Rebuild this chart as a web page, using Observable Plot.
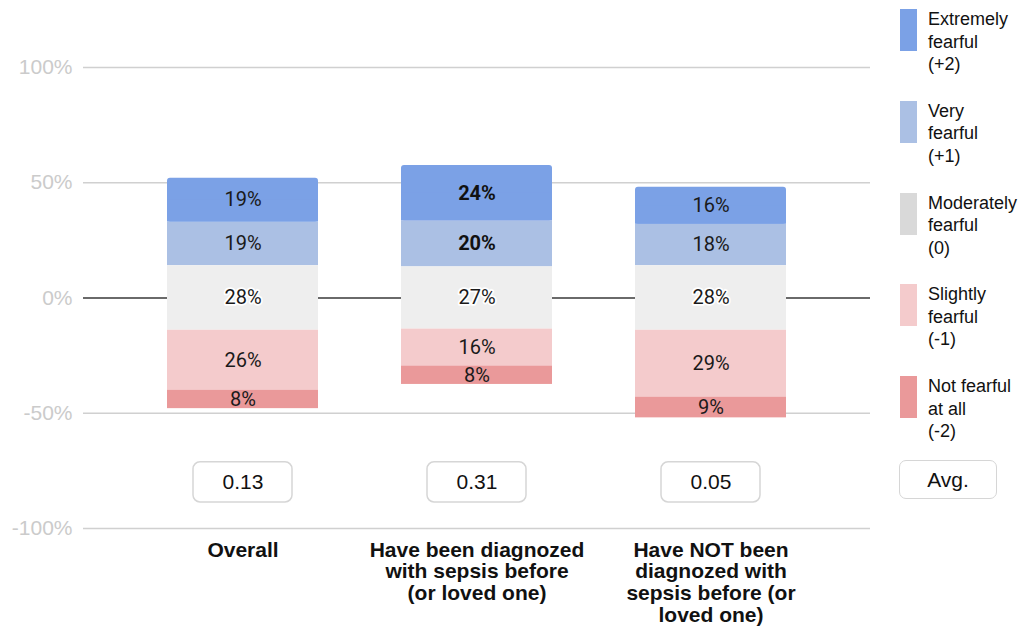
<!DOCTYPE html>
<html>
<head>
<meta charset="utf-8">
<script src="https://cdn.jsdelivr.net/npm/d3@7"></script>
<script src="https://cdn.jsdelivr.net/npm/@observablehq/plot@0.6"></script>
<style>
  html, body { margin: 0; padding: 0; background: #ffffff; }
  #chart { position: relative; width: 1021px; height: 626px; overflow: hidden; }
  #chart svg { display: block; }
  .legend { position: absolute; left: 900px; top: 9px; font-family: Arial, "Liberation Sans", sans-serif; font-size: 18px; color: #111; }
  .legend .item { position: relative; height: 91.75px; }
  .legend .swatch { position: absolute; left: 0; top: 0; width: 17px; height: 42px; }
  .legend .name { position: absolute; left: 28px; top: -1px; line-height: 22.5px; white-space: pre; }
  .avg-tag { position: absolute; left: 899px; top: 460px; width: 96px; height: 37px; border: 1.5px solid #d6d6d6; border-radius: 7px; font-family: Arial, "Liberation Sans", sans-serif; font-size: 21px; color: #111; display: flex; align-items: center; justify-content: center; background: #fff; }
</style>
</head>
<body>
<div id="chart"></div>
<script>
// Survey groups (keys) and their wrapped axis labels
const groups = [
  "Overall",
  "Have been diagnozed with sepsis before (or loved one)",
  "Have NOT been diagnozed with sepsis before (or loved one)"
];
const groupLabels = [
  "Overall",
  "Have been diagnozed\nwith sepsis before\n(or loved one)",
  "Have NOT been\ndiagnozed with\nsepsis before (or\nloved one)"
];

// Response levels, from most to least fearful
const levels = ["Extremely fearful", "Very fearful", "Moderately fearful", "Slightly fearful", "Not fearful at all"];
const legendLabels = ["Extremely\nfearful\n(+2)", "Very\nfearful\n(+1)", "Moderately\nfearful\n(0)", "Slightly\nfearful\n(-1)", "Not fearful\nat all\n(-2)"];
const barColors = ["#7ba1e6", "#abc0e4", "#eeeeee", "#f4cbcc", "#ea999a"];
const swatchColors = ["#7ba1e6", "#abc0e4", "#d9d9d9", "#f4cbcc", "#ea999a"];

// Share of respondents per level (%), one value per group
const extremelyFearful = [19, 24, 16];
const veryFearful = [19, 20, 18];
const moderatelyFearful = [28, 27, 28];
const slightlyFearful = [26, 16, 29];
const notFearful = [8, 8, 9];

// Weighted average score per group
const averages = [0.13, 0.31, 0.05];

// Segments printed in bold
const boldCells = ["1|Extremely fearful", "1|Very fearful"];

// Y axis ticks
const yTicks = [-1, -0.5, 0, 0.5, 1];

// Diverging stack: the neutral share is centred on zero
const segments = [];
groups.forEach((g, i) => {
  const m = moderatelyFearful[i] / 100;
  const v = veryFearful[i] / 100;
  const e = extremelyFearful[i] / 100;
  const s = slightlyFearful[i] / 100;
  const n = notFearful[i] / 100;
  const rows = [
    [levels[0], m / 2 + v, m / 2 + v + e, extremelyFearful[i]],
    [levels[1], m / 2, m / 2 + v, veryFearful[i]],
    [levels[2], -m / 2, m / 2, moderatelyFearful[i]],
    [levels[3], -m / 2 - s, -m / 2, slightlyFearful[i]],
    [levels[4], -m / 2 - s - n, -m / 2 - s, notFearful[i]]
  ];
  rows.forEach(([level, y1, y2, pct]) => {
    segments.push({group: g, index: i, level, y1, y2, pct, bold: boldCells.includes(`${i}|${level}`)});
  });
});

const color = d => barColors[levels.indexOf(d.level)];
const topSegments = segments.filter(d => d.level === levels[0]);
const otherSegments = segments.filter(d => d.level !== levels[0]);
const avgRows = groups.map((g, i) => ({group: g, avg: averages[i]}));

// Row of average tags sits below the bars, inside the frame
const avgRow = -0.8;
const avgHalf = 0.087;

const chart = Plot.plot({
  width: 1021,
  height: 626,
  marginTop: 67,
  marginBottom: 98,
  marginLeft: 83,
  marginRight: 151,
  style: {fontFamily: "Arial, 'Liberation Sans', sans-serif", background: "#ffffff"},
  x: {domain: groups, padding: 0.356, axis: null},
  y: {domain: [-1, 1], axis: null},
  marks: [
    Plot.gridY(yTicks, {stroke: "#d0d0d0", strokeOpacity: 1, strokeWidth: 1.5}),
    Plot.ruleY([0], {stroke: "#444444", strokeWidth: 1.5}),
    Plot.text(yTicks, {
      y: d => d, text: d => `${Math.round(d * 100)}%`,
      frameAnchor: "left", textAnchor: "end", dx: -11,
      fill: "#cbcbcb", fontSize: 21
    }),
    // Stacked segments
    Plot.barY(otherSegments, {x: "group", y1: "y1", y2: "y2", fill: color}),
    Plot.barY(topSegments, {x: "group", y1: "y1", y2: "y2", fill: color, rx: 3}),
    Plot.barY(topSegments, {x: "group", y1: "y1", y2: d => (d.y1 + d.y2) / 2, fill: color}),
    // Segment values
    Plot.text(segments.filter(d => !d.bold), {
      x: "group", y: d => (d.y1 + d.y2) / 2, text: d => `${d.pct}%`,
      fontFamily: "Roboto, sans-serif", fontSize: 20, fill: "#1a1a1a",
      stroke: d => d.level === levels[2] ? "#ffffff" : "none", strokeWidth: 3.5
    }),
    Plot.text(segments.filter(d => d.bold), {
      x: "group", y: d => (d.y1 + d.y2) / 2, text: d => `${d.pct}%`,
      fontFamily: "Roboto, sans-serif", fontSize: 20, fontWeight: "bold", fill: "#111111"
    }),
    // Average tags
    Plot.barY(avgRows, {
      x: "group", y1: avgRow - avgHalf, y2: avgRow + avgHalf,
      insetLeft: 26, insetRight: 26, rx: 7,
      fill: "#ffffff", stroke: "#d6d6d6", strokeWidth: 1.5
    }),
    Plot.text(avgRows, {
      x: "group", y: avgRow, text: d => d.avg.toFixed(2),
      fontSize: 21, fill: "#111111"
    }),
    // Group labels under the frame
    Plot.text(groups, {
      x: d => d, text: (d, i) => groupLabels[i],
      frameAnchor: "bottom", lineAnchor: "top", dy: 13,
      fontSize: 21, fontWeight: "bold", lineHeight: 1.03, fill: "#111111"
    })
  ]
});

const root = document.getElementById("chart");
root.appendChild(chart);

// Legend column on the right
const legend = document.createElement("div");
legend.className = "legend";
levels.forEach((level, i) => {
  const item = document.createElement("div");
  item.className = "item";
  const sw = document.createElement("div");
  sw.className = "swatch";
  sw.style.background = swatchColors[i];
  const name = document.createElement("div");
  name.className = "name";
  name.textContent = legendLabels[i];
  item.appendChild(sw);
  item.appendChild(name);
  legend.appendChild(item);
});
root.appendChild(legend);

const tag = document.createElement("div");
tag.className = "avg-tag";
tag.textContent = "Avg.";
root.appendChild(tag);
</script>
</body>
</html>
